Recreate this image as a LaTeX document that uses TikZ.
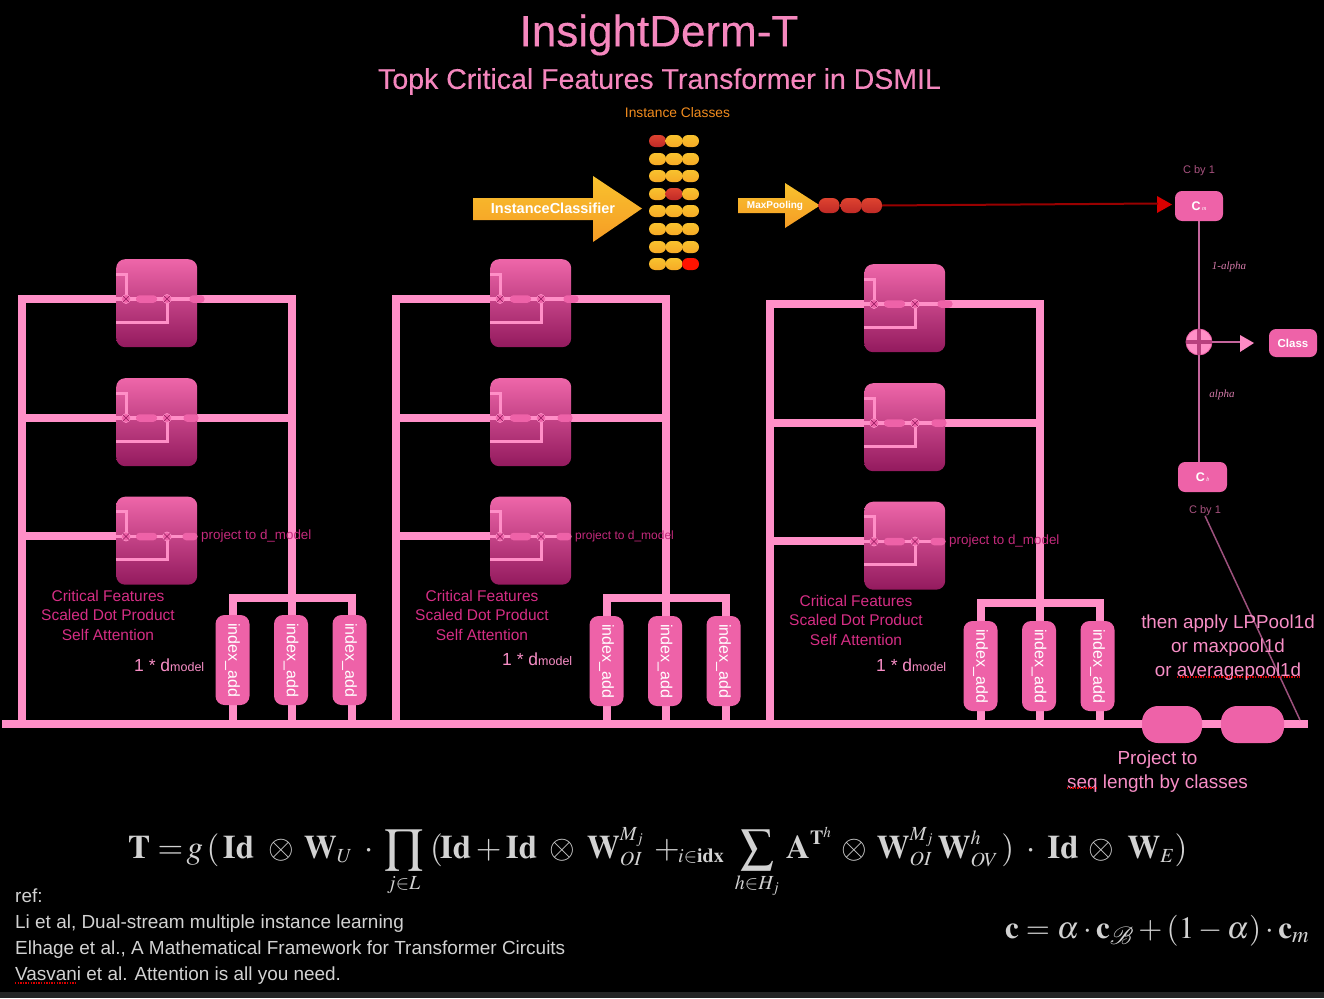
\documentclass[tikz,border=0pt]{standalone}
\usepackage{amsmath}
\usepackage{mathptmx}
\usepackage{mathrsfs}
\usepackage[no-math]{fontspec}
\setmainfont{Liberation Sans}
\newfontfamily\scriptface{Liberation Serif}
\newfontfamily\heavyface[FakeBold=0.25]{Liberation Sans}
\DeclareMathSizes{33}{33}{20}{15}
\usetikzlibrary{calc}
\definecolor{bus}{HTML}{FF8FC7}
\definecolor{boxpink}{HTML}{EE62A8}
\definecolor{boxtop}{HTML}{EE66A9}
\definecolor{boxbot}{HTML}{931A5E}
\definecolor{labelpink}{HTML}{D62E85}
\definecolor{projpink}{HTML}{C42A7C}
\definecolor{textpink}{HTML}{F88EC6}
\definecolor{titlepink}{HTML}{F587BE}
\definecolor{wirepink}{HTML}{C4659C}
\definecolor{dimpink}{HTML}{A8527F}
\definecolor{yelltop}{HTML}{F8C22E}
\definecolor{yellbot}{HTML}{F6AA26}
\definecolor{arrowbot}{HTML}{F69C25}
\definecolor{redtop}{HTML}{DE4330}
\definecolor{redbot}{HTML}{C02A26}
\definecolor{reftext}{HTML}{D2D2D2}
\definecolor{instorange}{HTML}{F28C1E}
\definecolor{crossdark}{HTML}{B8417F}
\newcommand{\fs}[1]{\fontsize{#1}{#1}\selectfont}
\newcommand{\K}[1]{\kern #1pt}
\tikzset{
  x=1pt,y=-1pt,
  thick bus/.style={draw=bus,line width=8pt},
  thin bus/.style={draw=bus,line width=3.5pt},
  blockbox/.style={rounded corners=9pt,minimum width=81pt,minimum height=88pt,top color=boxtop,bottom color=boxbot,inner sep=0pt,anchor=north west},
  minibox/.style={fill=boxpink,inner sep=0pt},
  indexbox/.style={fill=boxpink,rounded corners=9pt,inner sep=0pt,text=white,font=\fs{16}},
  xcirc/.style={circle,fill=boxpink,draw=bus,line width=.7pt,minimum size=9pt,inner sep=0pt},
  dotbox/.style={rounded corners=6pt,minimum width=17pt,minimum height=12pt,inner sep=0pt},
  redpill/.style={rounded corners=7pt,minimum width=21pt,minimum height=15pt,inner sep=0pt,top color=redtop,bottom color=redbot},
  ctrlbox/.style={fill=boxpink,rounded corners=7pt,inner sep=0pt,text=white,font=\bfseries\fs{12.5}},
  spell/.style={draw=red!85!black,line width=1.2pt,dash pattern=on 1.4pt off 1.2pt},
  scripty/.style={text=textpink!85!black,font=\scriptface\itshape\fs{11}},
  dimlabel/.style={text=dimpink,font=\fs{11}},
  ref/.style={text=reftext,font=\fs{18.95},anchor=base west},
  formula/.style={text=reftext,inner sep=0pt},
}
% one attention block: name, left x, top y, x of the end pill relative to the left edge
\newcommand{\attblock}[4]{%
  \node[blockbox] (#1) at (#2,#3) {};
  \coordinate (#1L) at ($(#1.north west)+(0,40)$);
  \coordinate (#1R) at ($(#1.north west)+(#4,40)$);
  \draw[thin bus] (#1L) -- (#1R);
  \draw[thin bus,line width=3pt] ($(#1.north west)+(0,15)$) -| ($(#1.north west)+(10,40)$);
  \draw[thin bus,line width=3pt] ($(#1.north west)+(0,63)$) -| ($(#1.north west)+(51,40)$);
  \node[xcirc] (#1a) at ($(#1.north west)+(10,40)$) {};
  \node[xcirc] (#1b) at ($(#1.north west)+(51,40)$) {};
  \draw[boxbot,line width=.6pt] (#1a.north west) -- (#1a.south east) (#1a.north east) -- (#1a.south west);
  \draw[boxbot,line width=.6pt] (#1b.north west) -- (#1b.south east) (#1b.north east) -- (#1b.south west);
  \node[minibox,rounded corners=3.5pt,minimum width=21pt,minimum height=7.5pt] (#1p) at ($(#1.north west)+(30.5,40)$) {};
  \node[minibox,rounded corners=3.5pt,minimum width=15pt,minimum height=7.5pt] (#1e) at (#1R) {};
}
% one column: prefix, dx, dy, y of index boxes, x of "1 * d", project text font size, baseline of "1 * d"
\newcommand{\attcolumn}[7]{%
  \begin{scope}[shift={(#2,#3)}]
    \coordinate (#1TL) at (18,299);
    \coordinate (#1TR) at (296,299);
    \coordinate (#1ML) at (22,418);
    \coordinate (#1MR) at (292,418);
    \coordinate (#1BL) at (22,536);
    \coordinate (#1BB) at (116,536);
    \coordinate (#1LB) at (22,295);
    \coordinate (#1RT) at (292,295);
    \coordinate (#1HL) at (229,598);
    \coordinate (#1HR) at (356,598);
    \coordinate (#1xa) at (233,598);
    \coordinate (#1xc) at (352,598);
  \end{scope}
  \draw[thick bus] (#1TL) -- (#1TR);
  \draw[thick bus] (#1ML) -- (#1MR);
  \draw[thick bus] (#1BL) -- (#1BB);
  \draw[thick bus] (#1LB) -- (#1LB |- 0,724);
  \draw[thick bus] (#1RT) -- (#1RT |- 0,724);
  \draw[thick bus] (#1HL) -- (#1HR);
  \draw[thick bus] (#1xa) -- (#1xa |- 0,724);
  \draw[thick bus] (#1xc) -- (#1xc |- 0,724);
  \begin{scope}[shift={(#2,#3)}]
    \attblock{#1a}{116}{259}{81}
    \attblock{#1b}{116}{378}{75}
    \attblock{#1c}{116}{496.5}{74}
    \node[indexbox,rotate=-90,minimum width=90pt,minimum height=34pt] (#1ia) at (232.5,#4) {index\_add};
    \node[indexbox,rotate=-90,minimum width=90pt,minimum height=34pt] (#1ib) at (291,#4) {index\_add};
    \node[indexbox,rotate=-90,minimum width=90pt,minimum height=34pt] (#1ic) at (349.5,#4) {index\_add};
    \node[text=projpink,font=\fs{#6},anchor=west,inner sep=0pt] (#1pr) at (201,536) {project to d\_model};
    \node[text=labelpink,align=center,font=\fontsize{15.5}{19.5}\selectfont,inner sep=0pt] (#1lab) at (108,615) {Critical Features\\Scaled Dot Product\\Self Attention};
  \end{scope}
  \node[text=textpink,font=\fs{17.5},anchor=base west,inner sep=0pt] (#1dm) at (#5,#7) {1 * d{\fs{12.5}model}};
}
\begin{document}
\begin{tikzpicture}
\useasboundingbox (0,0) rectangle (1324,998);
\fill[black] (0,0) rectangle (1324,998);
\fill[black!86] (0,992) rectangle (1324,998);

% titles
\node[text=titlepink,font=\heavyface\fs{44},inner sep=0pt] (title) at (659,35) {InsightDerm-T};
\node[text=titlepink,font=\heavyface\fs{28.5},inner sep=0pt] (subtitle) at (659.5,81.5) {Topk Critical Features Transformer in DSMIL};
\node[text=instorange,font=\fs{13.8},inner sep=0pt] (inst) at (677.5,113) {Instance Classes};

% bottom bus
\coordinate (busL) at (2,724);
\coordinate (busR) at (1308,724);
\draw[thick bus] (busL) -- (busR);

\attcolumn{A}{0}{0}{660}{134}{13.4}{671}
\attcolumn{B}{374}{0}{661}{502}{12}{665}
\attcolumn{C}{748}{5}{661}{876}{13.4}{671}

% instance classifier arrows
\shade[top color=yelltop,bottom color=arrowbot] (473,198) -- (593,198) -- (593,176) -- (642,208.5) -- (593,242) -- (593,220) -- (473,220) -- cycle;
\node[text=white,font=\bfseries\fs{14.5},inner sep=0pt] (icl) at (553,208) {InstanceClassifier};
\shade[top color=yelltop,bottom color=arrowbot] (738,198) -- (785,198) -- (785,183) -- (820,205.5) -- (785,228) -- (785,213) -- (738,213) -- cycle;
\node[text=white,font=\bfseries\fs{10},inner sep=0pt] (mxp) at (775,205.5) {MaxPooling};

% instance class grid
\foreach \r/\yy in {0/141,1/159,2/176,3/194,4/211,5/229,6/247,7/264}{
  \foreach \c/\xx in {0/657.5,1/674,2/690.5}{
    \ifnum\r\c=0
      \node[dotbox,top color=redtop,bottom color=redbot] (d\r\c) at (\xx,\yy) {};
    \else\ifnum\r\c=31
      \node[dotbox,top color=redtop,bottom color=redbot] (d\r\c) at (\xx,\yy) {};
    \else\ifnum\r\c=72
      \node[dotbox,fill=red!85!orange] (d\r\c) at (\xx,\yy) {};
    \else
      \node[dotbox,top color=yelltop,bottom color=yellbot] (d\r\c) at (\xx,\yy) {};
    \fi\fi\fi
  }
}

% max pool result
\node[redpill] (p1) at (829,205.5) {};
\node[redpill] (p2) at (851,205.5) {};
\node[redpill] (p3) at (871.5,205.5) {};

% right-hand controls
\node[ctrlbox,minimum width=48pt,minimum height=30pt] (cm) at (1199,206) {C{\scriptface\itshape\mdseries\fs{6} m}};
\node[ctrlbox,minimum width=49pt,minimum height=30pt] (cb) at (1202.5,477) {C{\scriptface\itshape\mdseries\fs{6} b}};
\node[ctrlbox,minimum width=48pt,minimum height=28pt,font=\bfseries\fs{11.5}] (cls) at (1293,343) {Class};
\node[circle,fill=bus,draw=boxpink,line width=.8pt,minimum size=26pt,inner sep=0pt] (plus) at (1199,342) {};
\draw[wirepink,line width=2pt] (cm.south -| plus) -- (plus.north);
\draw[wirepink,line width=2pt] (plus.south) -- (cb.north -| plus);
\draw[crossdark,line width=3.5pt] (plus.north) -- (plus.south) (plus.west) -- (plus.east);
\fill[red!85!black] (1157,196) -- (1172,204.5) -- (1157,213) -- cycle;
\coordinate (redtip) at (1158,203.5);
\draw[red!60!black,line width=2pt] (p3.east) -- (redtip);
\coordinate (clstip) at (1241,342);
\draw[wirepink,line width=2pt] (plus.east) -- (clstip);
\fill[bus!90!boxpink] (1240,335) -- (1254,343) -- (1240,352) -- cycle;
\node[dimlabel,inner sep=0pt] (cby1) at (1199,171) {C by 1};
\node[dimlabel,inner sep=0pt] (cby2) at (1205,510.5) {C by 1};
\node[scripty,inner sep=0pt] (oneal) at (1229,266.5) {1-alpha};
\node[scripty,inner sep=0pt] (al) at (1222,395) {alpha};
\coordinate (diagend) at (1300,720);
\draw[wirepink!80!black,line width=1.5pt] (cby2.south) -- (diagend);

% projection
\node[minibox,rounded corners=16pt,minimum width=60pt,minimum height=37pt] (pj1) at (1172,724.5) {};
\node[minibox,rounded corners=16pt,minimum width=63pt,minimum height=37pt] (pj2) at (1252.5,724.5) {};
\node[text=textpink,align=center,font=\fontsize{18.8}{24}\selectfont,inner sep=0pt] (pool) at (1228,647.5) {then apply LPPool1d\\or maxpool1d\\or averagepool1d};
\node[text=textpink,align=center,font=\fontsize{18.9}{24}\selectfont,inner sep=0pt] (proj) at (1157.5,771.5) {Project to\\seq length by classes};
\coordinate (sp1a) at (1177,677); \coordinate (sp1b) at (1300,677);
\draw[spell] (sp1a) -- (sp1b);
\coordinate (sp2a) at (1067,788); \coordinate (sp2b) at (1096,788);
\draw[spell] (sp2a) -- (sp2b);

% formulas
\node[formula,anchor=base west,font=\fs{33}] (eq1) at (128,858) {$\displaystyle \mathbf{T}=\K{-4}g\,(\K{3.5}\mathbf{Id}\K{9.5}\otimes\K{5.5}\mathbf{W}_{U}\K{7}\cdot\K{6}\prod_{j\in L}\K{7}(\K{-3}\mathbf{Id}+\mathbf{Id}\K{7.5}\otimes\K{7.5}\mathbf{W}_{OI}^{M_j}\K{5.5}+\K{-6}_{i\in\mathbf{idx}}\K{7}\sum_{h\in H_j}\K{3}\mathbf{A}^{\mathbf{T}^{h}}\K{5}\otimes\K{5}\mathbf{W}_{OI}^{M_j}\K{4}\mathbf{W}_{OV}^{h}\K{3})\K{7.5}\cdot\K{7.5}\mathbf{Id}\K{5.5}\otimes\K{8.5}\mathbf{W}_{E})$};
\node[formula,anchor=base west,font=\fs{31}] (eq2) at (1005,938) {$\mathbf{c}=\alpha\cdot\mathbf{c}_{\mathscr{B}}+(1-\alpha)\cdot\mathbf{c}_{m}$};

% references
\node[ref,inner sep=0pt] (r0) at (15,902) {ref:};
\node[ref,inner sep=0pt] (r1) at (15,928) {Li et al, Dual-stream multiple instance learning};
\node[ref,inner sep=0pt] (r2) at (15,954) {Elhage et al., A Mathematical Framework for Transformer Circuits};
\node[ref,inner sep=0pt] (r3) at (15,980) {Vasvani et al. Attention is all you need.};
\coordinate (sp3a) at (15,983); \coordinate (sp3b) at (77,983);
\draw[spell] (sp3a) -- (sp3b);
\end{tikzpicture}
\end{document}
